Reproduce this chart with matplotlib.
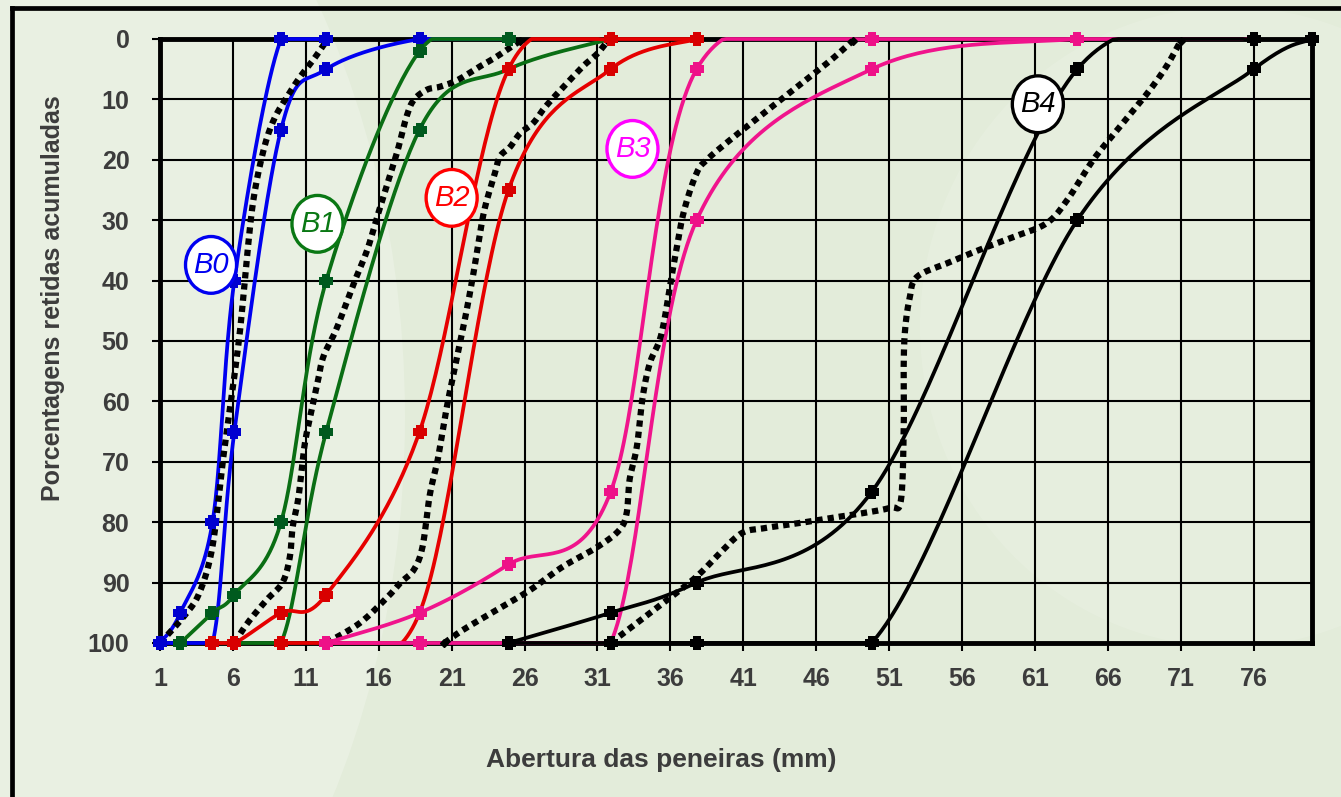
import numpy as np
import matplotlib
matplotlib.use('Agg')
import matplotlib.pyplot as plt
from matplotlib.patches import Ellipse
from matplotlib.lines import Line2D
from matplotlib.path import Path

# grading limits (% retained, cumulative) per sieve, fine and coarse limit of each zone
b0_fine_x = [1, 2.4, 4.6, 6.1, 9.3, 12.4]
b0_fine_y = [100, 95, 80, 40, 0, 0]
b0_coarse_x = [1, 2.4, 4.6, 6.1, 9.3, 12.4, 18.8, 24.9]
b0_coarse_y = [100, 100, 100, 65, 15, 5, 0, 0]

b1_fine_x = [2.4, 4.6, 6.1, 9.3, 12.4, 18.8, 24.9]
b1_fine_y = [100, 95, 92, 80, 40, 2, 0]
b1_coarse_x = [4.6, 6.1, 9.3, 12.4, 18.8, 24.9, 31.9]
b1_coarse_y = [100, 100, 100, 65, 15, 5, 0]

b2_fine_x = [4.6, 6.1, 9.3, 12.4, 18.8, 24.9, 31.9, 37.8]
b2_fine_y = [100, 100, 95, 92, 65, 5, 0, 0]
b2_coarse_x = [9.3, 12.4, 18.8, 24.9, 31.9, 37.8]
b2_coarse_y = [100, 100, 95, 25, 5, 0]

b3_fine_x = [12.4, 18.8, 24.9, 31.9, 37.8, 49.8, 63.9]
b3_fine_y = [100, 95, 87, 75, 5, 0, 0]
b3_coarse_x = [12.4, 18.8, 24.9, 31.9, 37.8, 49.8, 63.9, 76]
b3_coarse_y = [100, 100, 100, 100, 30, 5, 0, 0]

b4_fine_x = [24.9, 31.9, 37.8, 49.8, 63.9, 76]
b4_fine_y = [100, 95, 90, 75, 5, 0]
b4_coarse_x = [24.9, 31.9, 37.8, 49.8, 63.9, 76, 80]
b4_coarse_y = [100, 100, 100, 100, 30, 5, 0]

# sample curves (dotted)
b0_sample_x = [1, 2.6, 3.7, 4.6, 5.3, 6.0, 6.5, 6.9, 7.4, 8.1, 8.8, 9.7, 10.6, 11.5, 12.5]
b0_sample_y = [100, 95.7, 91.7, 84, 70, 57.6, 48, 37.7, 26.7, 18.4, 13.4, 9.6, 6.3, 3.5, 0]
b1_sample_x = [6.1, 7.0, 8.3, 9.4, 9.9, 10.1, 10.5, 10.9, 11.3, 11.8, 12.2, 13.1, 14.3, 15.2,
               15.9, 16.6, 17.3, 17.9, 18.4, 19.3, 20.2, 21.4, 22.9, 24.1, 25.7]
b1_sample_y = [100, 96.7, 92.9, 90, 85.8, 80.8, 75.8, 67.5, 62.5, 57, 52.6, 48, 40.4, 35,
               29.4, 23.9, 18.4, 12.9, 10.1, 8.4, 7.9, 6.8, 4.6, 2.9, 0.3]
b2_sample_x = [12.4, 14.7, 16.6, 17.5, 18.4, 19.0, 19.5, 20.0, 20.4, 20.8, 21.9, 22.5, 23.2,
               23.9, 24.3, 25.0, 25.7, 26.6, 27.4, 28.6, 29.3, 30.1, 31.0, 31.7]
b2_sample_y = [100, 96.7, 92.4, 90, 87.9, 84.1, 75.5, 70.2, 64.7, 59.3, 46.5, 38.7, 28.8,
               22.8, 19.5, 17.9, 15.6, 13.9, 11.3, 8.1, 6.3, 4.3, 2.4, 0.3]
b3_sample_x = [20.5, 21.8, 24.1, 26.4, 28.6, 31.0, 32.5, 33.0, 33.2, 33.7, 34.1, 34.6, 35.4,
               36.2, 36.9, 37.8, 38.5, 40.1, 42.4, 44.7, 47.0, 48.5]
b3_sample_y = [100, 97.8, 94.5, 91.2, 87.4, 84.1, 81.3, 78.5, 73, 67.5, 59.3, 53.6, 48.7,
               37.7, 28.8, 22.2, 20, 16.7, 12.3, 7.9, 3.5, 0.3]
b4_sample_x = [31.9, 33.7, 35.5, 37.8, 39.4, 40.9, 42.4, 44.7, 47.0, 49.2, 51.1, 51.8, 52.0,
               52.0, 52.1, 52.4, 52.9, 55.0, 57.2, 59.5, 61.8, 63.2, 65.0, 66.8, 68.7, 70.0, 71.0]
b4_sample_y = [100, 96.7, 93.4, 89, 85.1, 81.8, 81, 80.2, 79.3, 78.5, 77.6, 76.5, 65,
               54, 48, 43, 39.4, 37.1, 34.9, 32.8, 30.5, 26.7, 20, 14.6, 9, 4.6, 0.3]

zones = ['B0', 'B1', 'B2', 'B3', 'B4']
line_colors = ['#0000f0', '#0a6e14', '#e60000', '#f0148c', '#000000']
mark_colors = ['#0000d0', '#005a1e', '#d80000', '#ee1188', '#000000']
tag_colors = ['#0000f0', '#0a7814', '#ff0000', '#ff00ff', '#000000']
tag_pos = [(4.5, 37.4), (11.8, 30.6), (21.0, 26.3), (33.4, 18.2), (61.2, 10.8)]

fine = [(b0_fine_x, b0_fine_y), (b1_fine_x, b1_fine_y), (b2_fine_x, b2_fine_y),
        (b3_fine_x, b3_fine_y), (b4_fine_x, b4_fine_y)]
coarse = [(b0_coarse_x, b0_coarse_y), (b1_coarse_x, b1_coarse_y), (b2_coarse_x, b2_coarse_y),
          (b3_coarse_x, b3_coarse_y), (b4_coarse_x, b4_coarse_y)]
sample = [(b0_sample_x, b0_sample_y), (b1_sample_x, b1_sample_y), (b2_sample_x, b2_sample_y),
          (b3_sample_x, b3_sample_y), (b4_sample_x, b4_sample_y)]


def smooth(xs, ys, n=40):
    # bezier smoothing between points, spreadsheet style
    p = np.column_stack([xs, ys]).astype(float)
    e = np.vstack([p[0], p, p[-1]])
    t = np.linspace(0, 1, n)[:, None]
    segs = []
    for i in range(len(p) - 1):
        p0, p1 = e[i + 1], e[i + 2]
        c1 = p0 + (e[i + 2] - e[i]) / 6.
        c2 = p1 - (e[i + 3] - e[i + 1]) / 6.
        segs.append((1 - t)**3 * p0 + 3 * (1 - t)**2 * t * c1 + 3 * (1 - t) * t**2 * c2 + t**3 * p1)
    c = np.vstack(segs)
    return c[:, 0], np.clip(c[:, 1], 0, 100)


# chunky plus marker
a, b = 0.28, 0.5
plus = Path([(-a, b), (a, b), (a, a), (b, a), (b, -a), (a, -a), (a, -b), (-a, -b),
             (-a, -a), (-b, -a), (-b, a), (-a, a), (-a, b)], closed=True)

plt.rcParams['font.family'] = ['Liberation Sans', 'DejaVu Sans']
bg = '#e3ecda'
fig = plt.figure(figsize=(13.41, 7.97), dpi=100, facecolor=bg)

# faint lighter swoosh in the background
W, H = 1341., 797.
fig.patches.append(Ellipse((-120/W, 380/H), 1050/W, 1500/H, transform=fig.transFigure,
                           facecolor='white', alpha=0.22, edgecolor='none', zorder=-5))
fig.patches.append(Ellipse((1230/W, 470/H), 620/W, 640/H, transform=fig.transFigure,
                           facecolor='white', alpha=0.12, edgecolor='none', zorder=-5))

ax = fig.add_axes([160/W, 1-643/H, 1152/W, 604/H], zorder=1)
ax.patch.set_alpha(0)

th = 2.7
for i in range(5):
    c = line_colors[i]
    for xs, ys in (fine[i], coarse[i]):
        sx, sy = smooth(xs, ys)
        ax.plot(sx, sy, '-', color=c, lw=th, zorder=4 + i, clip_on=False, solid_capstyle='round')
        ax.plot(xs, ys, linestyle='none', marker=plus, color=mark_colors[i], ms=10.5, mew=0,
                zorder=4.5 + i, clip_on=False)
    xs, ys = sample[i]
    sx, sy = smooth(xs, ys, 20)
    ax.plot(sx, sy, color='k', lw=4.5, dashes=(1, 0.8), dash_capstyle='butt', zorder=4.2 + i, clip_on=False)
    ax.plot([xs[0], xs[-1]], [ys[0], ys[-1]], 'D', color='k', ms=4.5, zorder=4.3 + i, clip_on=False)

# zone tags
for i in range(5):
    x0, y0 = tag_pos[i]
    ax.add_patch(Ellipse((x0, y0), 3.5, 9.4, facecolor='white', edgecolor=tag_colors[i], lw=2.4, zorder=20))
    ax.text(x0, y0, zones[i], color=tag_colors[i], fontsize=21, style='italic',
            ha='center', va='center', zorder=21)

ax.set_xlim(1, 80)
ax.set_ylim(100, 0)
ax.set_xticks(np.arange(1, 77, 5))
ax.set_yticks(np.arange(0, 101, 10))
ax.grid(True, color='k', lw=1.5)
ax.set_axisbelow(True)
for s in ax.spines.values():
    s.set_linewidth(3.5)
    s.set_color('k')
ax.tick_params(direction='out', length=6, width=1.5, colors='k', labelcolor='#3c3c3c',
               labelsize=18)
ax.tick_params(axis='y', pad=16)
ax.tick_params(axis='x', pad=11)
for lab in ax.get_xticklabels() + ax.get_yticklabels():
    lab.set_fontweight('bold')

fig.text(53/W, 1-298/H, 'Porcentagens retidas acumuladas', rotation=90, ha='center', va='center',
         fontsize=18, fontweight='bold', color='#3c3c3c')
fig.text(661/W, 1-760/H, 'Abertura das peneiras (mm)', ha='center', va='center',
         fontsize=19, fontweight='bold', color='#3c3c3c')

# outer frame
fig.add_artist(Line2D([12/W, 1], [1-8/H, 1-8/H], color='k', lw=3.4, transform=fig.transFigure))
fig.add_artist(Line2D([12/W, 12/W], [0, 1-8/H], color='k', lw=3.4, transform=fig.transFigure))

plt.savefig('out.png', dpi=100, facecolor=bg)
